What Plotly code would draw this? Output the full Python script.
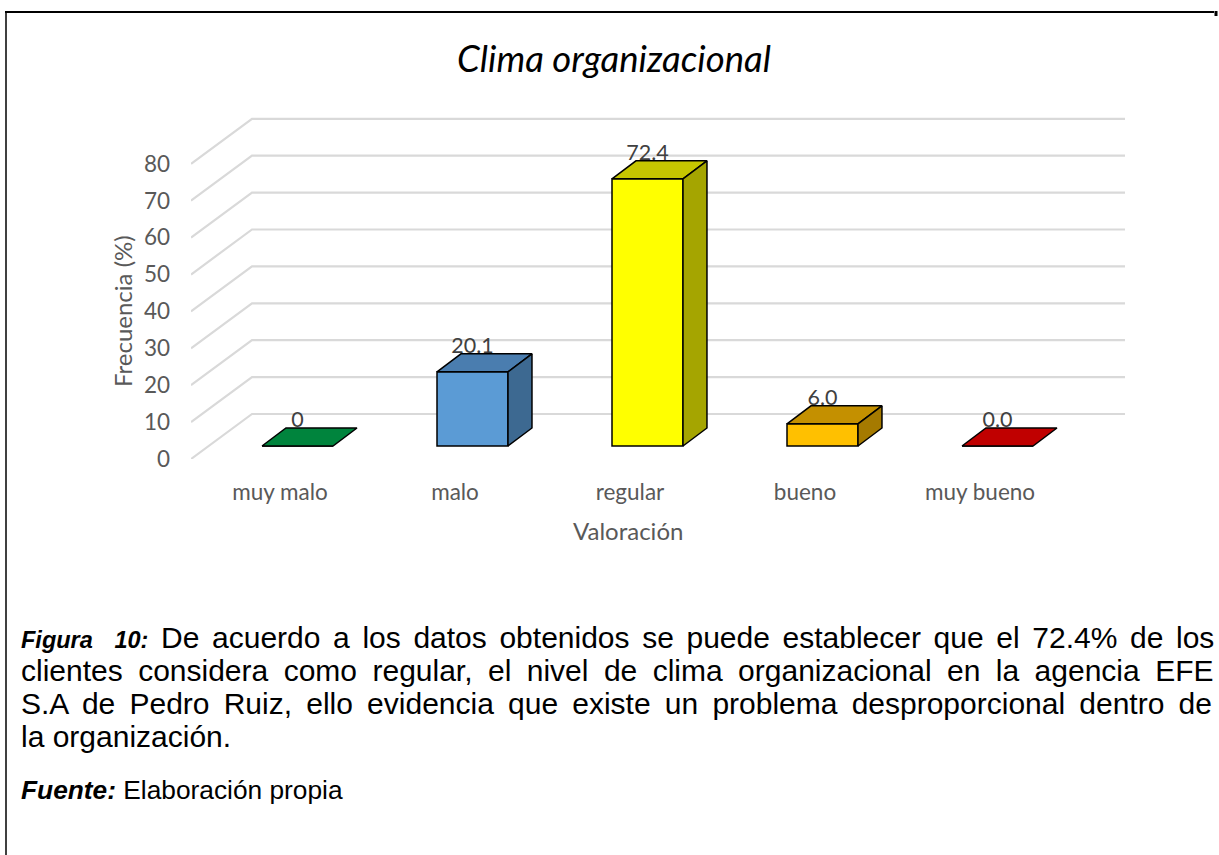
import plotly.graph_objects as go

# ---- data ----
categories = ["muy malo", "malo", "regular", "bueno", "muy bueno"]
values = [0, 20.1, 72.4, 6.0, 0.0]
value_labels = ["0", "20.1", "72.4", "6.0", "0.0"]
y_ticks = [0, 10, 20, 30, 40, 50, 60, 70, 80]

front_colors = ["#00843D", "#5B9BD5", "#FFFF00", "#FFC000", "#C00000"]
top_colors = ["#00843D", "#4A7DAF", "#C6C600", "#C49000", "#C00000"]
side_colors = ["#006B31", "#3D6991", "#A5A500", "#A57A00", "#9A0000"]

# ---- pseudo-3D geometry (in axis units) ----
X0, X1 = -0.5086, 4.8286        # floor front-left / back-right extent
Y0, Y1 = 0, 97.29
WALL_DX, WALL_DY = 0.3486, 12.2  # front plane -> back wall offset
BAR_DX, BAR_DY = 0.10, 3.52      # front plane -> bar front face
DEP_DX, DEP_DY = 0.137, 4.88     # bar depth
BAR_W = 0.4057

L, R, T, B = 191, 94, 100, 396
W, H = 1219, 855
PW, PH = W - L - R, H - T - B


def px(xp):
    return (xp - L) / PW


def py(yp):
    return (H - B - yp) / PH


fig = go.Figure()

# front faces (bars)
fig.add_trace(go.Bar(
    x=[i + BAR_DX for i in range(len(categories))],
    y=values,
    base=BAR_DY,
    width=BAR_W,
    marker=dict(color=front_colors, line=dict(color="black", width=1.5)),
    hoverinfo="skip",
    showlegend=False,
))

for i, v in enumerate(values):
    xl = i + BAR_DX - BAR_W / 2
    xr = i + BAR_DX + BAR_W / 2
    yb = BAR_DY
    yt = BAR_DY + v
    # top face
    fig.add_trace(go.Scatter(
        x=[xl, xr, xr + DEP_DX, xl + DEP_DX, xl],
        y=[yt, yt, yt + DEP_DY, yt + DEP_DY, yt],
        fill="toself", fillcolor=top_colors[i], mode="lines",
        line=dict(color="black", width=1.5), hoverinfo="skip", showlegend=False,
    ))
    if v > 0:
        fig.add_trace(go.Scatter(
            x=[xr, xr + DEP_DX, xr + DEP_DX, xr, xr],
            y=[yb, yb + DEP_DY, yt + DEP_DY, yt, yb],
            fill="toself", fillcolor=side_colors[i], mode="lines",
            line=dict(color="black", width=1.5), hoverinfo="skip", showlegend=False,
        ))

# data labels
fig.add_trace(go.Scatter(
    x=[i + BAR_DX for i in range(len(values))],
    y=[BAR_DY + v + DEP_DY - 1.2 for v in values],
    mode="text", text=value_labels, textposition="top center",
    textfont=dict(family="Lato", size=21.5, color="#404040"),
    hoverinfo="skip", showlegend=False, cliponaxis=False,
))

# gridlines (pseudo-3D: diagonal on side wall, horizontal on back wall)
shapes = []
for t in y_ticks:
    shapes.append(dict(type="path", xref="x", yref="y", layer="below",
                       path=f"M {X0},{t} L {X0 + WALL_DX},{t + WALL_DY} L {X1},{t + WALL_DY}",
                       line=dict(color="#D9D9D9", width=2.2)))

# outer frame
shapes += [
    dict(type="line", xref="paper", yref="paper", x0=px(5), x1=px(1214), y0=py(12), y1=py(12),
         line=dict(color="black", width=2)),
    dict(type="line", xref="paper", yref="paper", x0=px(6), x1=px(6), y0=py(11), y1=py(856),
         line=dict(color="black", width=1.5)),
    dict(type="line", xref="paper", yref="paper", x0=px(1216), x1=px(1216), y0=py(11), y1=py(16),
         line=dict(color="black", width=3)),
]

tick_font = dict(family="Lato", size=22.5, color="#595959")
title_font = dict(family="Lato", size=24, color="#595959")
annotations = [
    dict(text="<i>Clima organizacional</i>", x=px(614), y=py(58), xref="paper", yref="paper",
         showarrow=False, xanchor="center", yanchor="middle",
         font=dict(family="Lato", size=36.5, color="#000000")),
    dict(text="Frecuencia (%)", x=px(122), y=py(311), xref="paper", yref="paper",
         showarrow=False, textangle=-90, xanchor="center", yanchor="middle", font=title_font),
    dict(text="Valoración", x=px(628), y=py(530), xref="paper", yref="paper",
         showarrow=False, xanchor="center", yanchor="middle", font=title_font),
]

# caption (justified in the original: emulate with word spacing)
caption_lines = [
    ("<b><i><span style='font-size:23.5px'>Figura\u00a0\u00a010:</span></i></b> "
     "De acuerdo a los datos obtenidos se puede establecer que el 72.4% de los", 4.3),
    ("clientes considera como regular, el nivel de clima organizacional en la agencia EFE", 7.1),
    ("S.A de Pedro Ruiz, ello evidencia que existe un problema desproporcional dentro de", 5.85),
    ("la organización.", 0.0),
]
for k, (line, ws) in enumerate(caption_lines):
    annotations.append(dict(text=f"<span style='word-spacing:{ws}px'>{line}</span>",
                            x=px(19), y=py(637 + 33 * k), xref="paper", yref="paper",
                            showarrow=False, xanchor="left", yanchor="middle",
                            font=dict(family="Liberation Sans", size=30, color="#000000")))
annotations.append(dict(text="<b><i>Fuente:</i></b> Elaboración propia", x=px(19), y=py(790),
                        xref="paper", yref="paper", showarrow=False, xanchor="left", yanchor="middle",
                        font=dict(family="Liberation Sans", size=26.3, color="#000000")))

fig.update_layout(
    width=W, height=H,
    margin=dict(l=L, r=R, t=T, b=B, autoexpand=False),
    paper_bgcolor="white", plot_bgcolor="white",
    shapes=shapes, annotations=annotations, showlegend=False,
    xaxis=dict(range=[X0, X1], tickmode="array", tickvals=list(range(len(categories))),
               ticktext=categories, showgrid=False, zeroline=False, showline=False,
               ticks="", tickfont=tick_font, ticklabelstandoff=17, fixedrange=True),
    yaxis=dict(range=[Y0, Y1], tickmode="array", tickvals=y_ticks,
               ticktext=[str(t) for t in y_ticks], showgrid=False, zeroline=False,
               showline=False, ticks="", tickfont=tick_font, ticklabelstandoff=20, fixedrange=True),
)

fig.write_html("out.html", config={"displayModeBar": False},
               post_script="document.body.style.margin='0';document.body.style.overflow='hidden';")
